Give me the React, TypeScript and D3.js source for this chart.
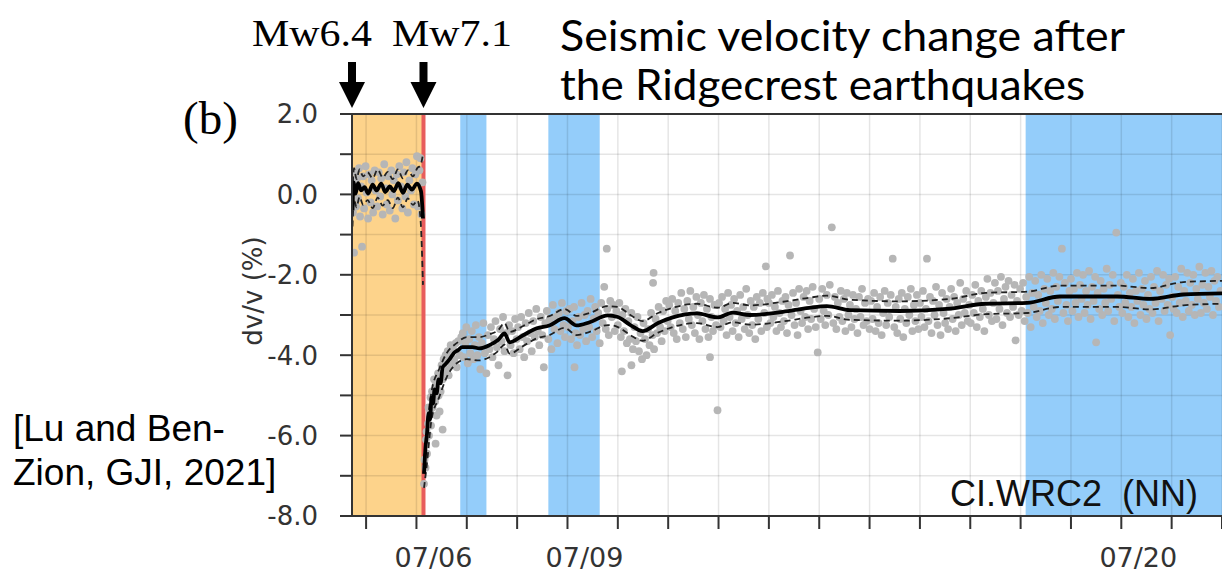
import * as d3 from "d3";

// time axis: days since 2019-07-04 00:00 UTC
const W = 1222;
const H = 573;
const plot = { left: 352, right: 1222, top: 114, bottom: 516 };

const xDomain = [0.72, 18.0];
const yDomain = [-8, 2];

const orangeSpan = [0.72, 2.14];
const mainshockDay = 2.14;
const blueSpans = [
  [2.87, 3.39],
  [4.62, 5.64],
  [14.1, 18.2],
];

const dateLabelDays = [2, 5, 16];
const dateLabels = ["07/06", "07/09", "07/20"];
const quakeArrowDays = [0.72, 2.14];
const quakeLabels = ["Mw6.4", "Mw7.1"];
const quakeLabelX = [252, 392];

// smoothed dv/v (solid) and its bounds (dashed)
const meanPre = [[0.73,-0.40],[0.75,0.30],[0.79,0.02],[0.84,0.28],[0.90,0.10],[0.97,0.18],[1.04,0.02],[1.13,0.24],[1.21,0.10],[1.30,0.27],[1.38,0.06],[1.47,0.20],[1.55,0.08],[1.64,0.28],[1.73,0.04],[1.82,0.24],[1.91,0.12],[2.01,0.27],[2.09,0.08],[2.13,-0.60]];
const upperPre = [[0.73,0.05],[0.76,0.65],[0.81,0.38],[0.87,0.62],[0.94,0.45],[1.03,0.55],[1.13,0.40],[1.23,0.62],[1.33,0.42],[1.43,0.56],[1.53,0.38],[1.63,0.62],[1.73,0.40],[1.83,0.60],[1.93,0.45],[2.02,0.66],[2.08,0.72],[2.13,1.00]];
const lowerPre = [[0.73,-0.80],[0.76,-0.12],[0.81,-0.32],[0.87,-0.06],[0.94,-0.26],[1.03,-0.14],[1.13,-0.34],[1.23,-0.08],[1.33,-0.28],[1.43,-0.14],[1.53,-0.34],[1.63,-0.08],[1.73,-0.32],[1.83,-0.10],[1.93,-0.26],[2.02,-0.15],[2.08,-0.60],[2.13,-2.25]];

const meanPost = [[2.15,-6.95],[2.18,-6.30],[2.21,-5.95],[2.24,-5.45],[2.27,-5.60],[2.30,-5.05],[2.33,-5.20],[2.36,-4.85],[2.40,-4.95],[2.44,-4.60],[2.48,-4.70],[2.52,-4.30],[2.58,-4.22],[2.66,-4.10],[2.74,-3.95],[2.82,-3.88],[2.91,-3.80],[3.11,-3.80],[3.25,-3.83],[3.45,-3.75],[3.62,-3.62],[3.75,-3.46],[3.85,-3.68],[4.11,-3.51],[4.39,-3.33],[4.64,-3.26],[4.94,-3.08],[5.18,-3.26],[5.44,-3.18],[5.80,-3.01],[6.00,-3.05],[6.25,-3.25],[6.49,-3.40],[6.80,-3.20],[7.09,-3.06],[7.57,-2.96],[7.98,-3.06],[8.28,-2.94],[8.62,-3.00],[9.28,-2.92],[9.80,-2.82],[10.15,-2.78],[10.61,-2.88],[11.6,-2.90],[12.6,-2.84],[13.3,-2.72],[14.13,-2.70],[14.78,-2.54],[15.92,-2.54],[16.57,-2.60],[17.23,-2.49],[18.0,-2.46]];
const upperPost = [[2.15,-6.60],[2.20,-5.90],[2.30,-4.90],[2.45,-4.35],[2.60,-3.95],[2.80,-3.70],[3.00,-3.55],[3.25,-3.55],[3.45,-3.48],[3.62,-3.38],[3.75,-3.20],[3.85,-3.42],[4.11,-3.28],[4.39,-3.10],[4.64,-3.03],[4.94,-2.85],[5.18,-3.02],[5.44,-2.95],[5.80,-2.78],[6.00,-2.80],[6.25,-3.00],[6.49,-3.15],[6.80,-2.95],[7.09,-2.82],[7.57,-2.72],[7.98,-2.82],[8.28,-2.70],[8.62,-2.76],[9.28,-2.67],[9.80,-2.57],[10.15,-2.52],[10.61,-2.62],[11.6,-2.66],[12.6,-2.60],[13.3,-2.45],[14.13,-2.42],[14.78,-2.27],[15.92,-2.27],[16.57,-2.33],[17.23,-2.18],[18.0,-2.15]];
const lowerPost = [[2.15,-7.30],[2.20,-6.80],[2.30,-5.60],[2.45,-5.05],[2.60,-4.55],[2.80,-4.20],[3.00,-4.10],[3.25,-4.13],[3.45,-4.05],[3.62,-3.90],[3.75,-3.74],[3.85,-3.96],[4.11,-3.78],[4.39,-3.58],[4.64,-3.50],[4.94,-3.32],[5.18,-3.50],[5.44,-3.42],[5.80,-3.25],[6.00,-3.30],[6.25,-3.50],[6.49,-3.64],[6.80,-3.44],[7.09,-3.30],[7.57,-3.20],[7.98,-3.30],[8.28,-3.18],[8.62,-3.24],[9.28,-3.16],[9.80,-3.06],[10.15,-3.02],[10.61,-3.12],[11.6,-3.14],[12.6,-3.08],[13.3,-2.98],[14.13,-2.95],[14.78,-2.80],[15.92,-2.80],[16.57,-2.86],[17.23,-2.76],[18.0,-2.72]];

// individual dv/v measurements (grey dots)
const scatterPre = [[0.74,-0.45],[0.75,0.30],[0.76,-1.45],[0.77,0.10],[0.79,0.55],[0.80,-0.30],[0.82,0.40],[0.84,-0.10],[0.86,0.65],[0.88,-0.55],[0.90,0.20],[0.92,-1.30],[0.94,0.45],[0.96,-0.35],[0.99,0.70],[1.01,0.05],[1.04,-0.60],[1.06,0.50],[1.09,-0.20],[1.11,0.35],[1.14,-0.45],[1.17,0.60],[1.19,0.10],[1.22,-0.30],[1.25,0.55],[1.28,-0.05],[1.30,0.40],[1.33,-0.50],[1.36,0.75],[1.39,0.15],[1.41,-0.25],[1.44,0.45],[1.47,-0.40],[1.50,0.60],[1.52,0.00],[1.55,0.35],[1.58,-0.60],[1.61,0.50],[1.63,-0.15],[1.66,0.70],[1.69,0.20],[1.72,-0.35],[1.75,0.55],[1.78,-0.05],[1.80,0.80],[1.83,-0.45],[1.86,0.35],[1.89,0.10],[1.92,0.65],[1.95,-0.25],[1.98,0.50],[2.01,0.95],[2.03,-0.30],[2.06,0.60],[2.08,0.90],[2.10,-0.50],[2.12,0.30]];
const scatterEarly = [[2.15,-7.20],[2.16,-6.60],[2.18,-6.80],[2.19,-6.10],[2.20,-5.90],[2.21,-6.45],[2.23,-5.70],[2.24,-5.30],[2.25,-6.00],[2.27,-5.40],[2.28,-5.05],[2.29,-5.75],[2.31,-4.90],[2.32,-5.30],[2.34,-5.00],[2.35,-4.60],[2.37,-5.15],[2.38,-6.20],[2.38,-4.75],[2.40,-5.50],[2.41,-4.85],[2.43,-4.45],[2.44,-5.00],[2.46,-5.40],[2.46,-4.55],[2.48,-4.90],[2.50,-4.25],[2.52,-5.85],[2.52,-4.60],[2.54,-4.10],[2.56,-4.45],[2.58,-4.00],[2.60,-4.35],[2.62,-3.90],[2.64,-4.50],[2.66,-4.05],[2.68,-3.75],[2.70,-4.25],[2.73,-3.85],[2.75,-4.10],[2.78,-3.70],[2.80,-4.30],[2.83,-3.65],[2.86,-4.00],[2.89,-3.55]];
const scatterJul06to09 = [[2.92,-3.45],[2.94,-4.05],[2.97,-3.70],[2.99,-3.30],[3.02,-4.20],[3.05,-3.60],[3.07,-3.95],[3.10,-3.40],[3.13,-4.10],[3.16,-3.75],[3.18,-3.25],[3.21,-4.00],[3.24,-3.55],[3.27,-4.35],[3.30,-3.70],[3.33,-3.20],[3.36,-3.95],[3.39,-4.45],[3.42,-3.50],[3.45,-3.85],[3.48,-3.30],[3.51,-4.05],[3.54,-3.60],[3.57,-3.15],[3.60,-3.80],[3.63,-4.25],[3.66,-3.35],[3.69,-3.65],[3.72,-3.05],[3.75,-3.90],[3.78,-3.45],[3.81,-4.50],[3.84,-3.25],[3.87,-3.75],[3.90,-3.40],[3.93,-3.95],[3.96,-3.10],[3.99,-3.60],[4.02,-3.30],[4.05,-3.85],[4.08,-3.05],[4.11,-3.55],[4.14,-4.05],[4.17,-3.20],[4.20,-3.65],[4.23,-2.95],[4.26,-3.45],[4.29,-3.90],[4.32,-3.15],[4.35,-3.55],[4.38,-2.85],[4.41,-3.40],[4.44,-3.75],[4.47,-3.05],[4.50,-3.50],[4.53,-4.30],[4.56,-3.20],[4.59,-2.90],[4.62,-3.60],[4.65,-3.10],[4.68,-3.85],[4.71,-2.75],[4.74,-3.35],[4.77,-3.05],[4.80,-3.70],[4.83,-2.95],[4.86,-3.40],[4.89,-2.70],[4.92,-3.25],[4.95,-3.55],[4.98,-2.90]];
const scatterJul09to12 = [[5.01,-3.30],[5.04,-2.85],[5.07,-3.60],[5.10,-3.15],[5.13,-2.80],[5.14,-4.30],[5.16,-3.45],[5.19,-3.75],[5.22,-3.05],[5.25,-3.50],[5.28,-2.70],[5.31,-3.35],[5.34,-3.00],[5.37,-3.65],[5.40,-2.90],[5.43,-3.30],[5.46,-2.60],[5.49,-3.55],[5.52,-3.10],[5.55,-2.80],[5.58,-3.40],[5.61,-2.95],[5.64,-3.70],[5.67,-2.70],[5.70,-3.20],[5.73,-2.30],[5.76,-3.35],[5.78,-1.35],[5.79,-2.85],[5.82,-3.50],[5.85,-2.65],[5.88,-3.05],[5.91,-2.75],[5.94,-3.40],[5.97,-2.90],[6.00,-3.25],[6.03,-2.70],[6.06,-3.55],[6.08,-4.40],[6.09,-3.00],[6.12,-3.40],[6.15,-2.85],[6.18,-3.70],[6.21,-3.15],[6.24,-3.60],[6.27,-4.25],[6.27,-2.95],[6.30,-3.85],[6.33,-3.30],[6.36,-3.65],[6.39,-3.05],[6.42,-3.90],[6.45,-3.45],[6.48,-4.10],[6.51,-3.20],[6.54,-3.60],[6.57,-4.00],[6.60,-3.35],[6.63,-3.75],[6.66,-2.95],[6.69,-3.50],[6.70,-2.20],[6.71,-1.95],[6.72,-3.85],[6.75,-3.10],[6.78,-3.45],[6.81,-2.80],[6.84,-3.30],[6.87,-3.65],[6.90,-2.90],[6.93,-3.40],[6.96,-2.65],[6.99,-3.15],[7.02,-2.75],[7.05,-3.30],[7.08,-2.60],[7.11,-3.45],[7.14,-2.90],[7.17,-3.60],[7.20,-2.70],[7.23,-3.20],[7.26,-2.45],[7.29,-3.35],[7.32,-2.85],[7.35,-3.55],[7.38,-2.65],[7.41,-3.10],[7.44,-2.40],[7.47,-3.25],[7.50,-2.80],[7.53,-3.45],[7.56,-2.55],[7.59,-3.00],[7.62,-3.60],[7.65,-2.70],[7.68,-3.15],[7.71,-2.50],[7.74,-3.35],[7.77,-2.85],[7.80,-3.55],[7.83,-4.05],[7.83,-2.60],[7.86,-3.05],[7.89,-3.40],[7.92,-2.75],[7.95,-3.25],[7.98,-5.37]];
const scatterJul12to16 = [[8.01,-2.70],[8.04,-3.30],[8.07,-2.55],[8.10,-3.15],[8.13,-2.85],[8.16,-3.50],[8.19,-2.45],[8.22,-3.05],[8.25,-2.75],[8.28,-3.40],[8.31,-2.60],[8.34,-3.20],[8.37,-2.90],[8.40,-3.55],[8.43,-2.50],[8.46,-3.10],[8.49,-2.80],[8.52,-3.35],[8.55,-2.35],[8.58,-3.00],[8.61,-3.45],[8.64,-2.65],[8.67,-3.25],[8.70,-2.80],[8.73,-3.60],[8.76,-2.55],[8.79,-3.10],[8.82,-2.70],[8.85,-3.40],[8.88,-2.45],[8.91,-2.95],[8.94,-1.79],[8.96,-3.30],[8.97,-2.60],[9.00,-2.70],[9.03,-3.20],[9.06,-2.50],[9.09,-3.05],[9.12,-2.80],[9.15,-3.40],[9.18,-2.40],[9.21,-2.95],[9.24,-3.30],[9.27,-2.65],[9.30,-3.15],[9.33,-2.55],[9.36,-3.45],[9.39,-2.75],[9.42,-1.52],[9.45,-3.00],[9.48,-2.45],[9.51,-3.25],[9.54,-2.70],[9.57,-3.50],[9.60,-2.35],[9.63,-2.90],[9.66,-3.20],[9.69,-2.55],[9.72,-3.05],[9.75,-2.40],[9.78,-3.35],[9.81,-2.65],[9.84,-3.10],[9.87,-2.30],[9.90,-2.85],[9.93,-3.30],[9.97,-3.93],[10.00,-2.60],[10.03,-3.10],[10.06,-2.35],[10.09,-2.90],[10.12,-3.25],[10.15,-2.50],[10.18,-3.00],[10.21,-2.25],[10.25,-0.82],[10.28,-3.20],[10.31,-2.55],[10.34,-3.35],[10.37,-2.70],[10.40,-3.05],[10.43,-2.40],[10.46,-3.15],[10.49,-2.60],[10.52,-3.40],[10.55,-2.45],[10.58,-3.00],[10.61,-2.75],[10.64,-3.30],[10.67,-2.50],[10.70,-3.10],[10.73,-2.85],[10.76,-3.45],[10.79,-2.55],[10.82,-3.05],[10.85,-2.35],[10.88,-3.25],[10.91,-2.70],[10.94,-3.15],[10.97,-2.60],[11.00,-3.35],[11.03,-2.65],[11.06,-3.10],[11.09,-2.45],[11.12,-3.40],[11.15,-2.80],[11.18,-3.20],[11.21,-2.55],[11.24,-3.50],[11.27,-2.95],[11.30,-2.40],[11.33,-3.25],[11.36,-2.70],[11.39,-3.05],[11.42,-2.50],[11.46,-1.60],[11.49,-3.30],[11.52,-2.80],[11.55,-3.45],[11.58,-2.60],[11.61,-3.10],[11.64,-2.45],[11.67,-3.55],[11.70,-2.85],[11.73,-3.20],[11.76,-2.55],[11.79,-3.00],[11.82,-2.35],[11.85,-3.40],[11.88,-2.75],[11.91,-3.15],[11.94,-2.50],[11.97,-3.35]];
const scatterJul16to19 = [[12.00,-2.70],[12.03,-3.05],[12.06,-2.40],[12.09,-3.30],[12.12,-2.85],[12.14,-1.60],[12.17,-3.15],[12.20,-2.55],[12.23,-3.45],[12.26,-2.65],[12.29,-3.00],[12.32,-2.30],[12.35,-3.25],[12.38,-2.75],[12.41,-3.50],[12.44,-2.45],[12.47,-2.95],[12.50,-3.20],[12.53,-2.60],[12.56,-3.35],[12.59,-2.80],[12.62,-2.35],[12.65,-3.10],[12.68,-2.55],[12.71,-3.40],[12.74,-2.70],[12.77,-3.00],[12.80,-2.20],[12.83,-3.25],[12.86,-2.60],[12.89,-2.95],[12.92,-2.40],[12.95,-3.15],[12.98,-2.75],[13.01,-3.20],[13.04,-2.50],[13.07,-2.95],[13.10,-2.25],[13.13,-3.30],[13.16,-2.65],[13.19,-3.05],[13.22,-2.40],[13.25,-2.85],[13.28,-3.40],[13.31,-2.55],[13.34,-2.10],[13.37,-3.00],[13.40,-2.45],[13.43,-3.15],[13.46,-2.70],[13.49,-2.20],[13.52,-3.10],[13.55,-2.40],[13.58,-2.85],[13.61,-2.05],[13.64,-3.25],[13.67,-2.60],[13.70,-2.30],[13.73,-2.95],[13.76,-2.15],[13.79,-3.05],[13.82,-2.50],[13.85,-2.80],[13.88,-2.25],[13.90,-3.63],[13.93,-2.65],[13.96,-3.00],[13.99,-2.35],[14.02,-2.90],[14.05,-2.20],[14.08,-3.15],[14.11,-2.55],[14.14,-2.95],[14.17,-2.05],[14.20,-3.30],[14.23,-2.45],[14.26,-2.80],[14.29,-2.15],[14.32,-3.05],[14.35,-2.50],[14.38,-2.90],[14.41,-2.00],[14.44,-3.20],[14.47,-2.35],[14.50,-2.70],[14.53,-2.10],[14.56,-3.00],[14.59,-2.40],[14.62,-2.85],[14.65,-1.95],[14.68,-3.10],[14.71,-2.30],[14.74,-2.65],[14.77,-2.05],[14.82,-1.35],[14.85,-2.95],[14.88,-2.20],[14.91,-2.75],[14.94,-3.15],[14.97,-2.40]];
const scatterJul19to22 = [[15.00,-2.10],[15.03,-2.90],[15.06,-2.35],[15.09,-2.70],[15.12,-1.95],[15.15,-3.05],[15.18,-2.25],[15.21,-2.60],[15.24,-2.00],[15.27,-2.95],[15.30,-2.40],[15.33,-2.75],[15.36,-1.90],[15.39,-3.10],[15.42,-2.30],[15.45,-2.65],[15.48,-2.05],[15.50,-3.68],[15.53,-2.45],[15.56,-2.85],[15.59,-2.15],[15.62,-3.00],[15.65,-2.35],[15.68,-2.70],[15.71,-1.85],[15.74,-2.90],[15.77,-2.25],[15.80,-2.60],[15.83,-2.00],[15.86,-3.15],[15.90,-0.95],[15.93,-2.50],[15.96,-2.80],[15.99,-2.20],[16.02,-2.95],[16.05,-2.30],[16.08,-2.70],[16.11,-2.00],[16.14,-3.05],[16.17,-2.45],[16.20,-2.80],[16.23,-2.10],[16.26,-3.20],[16.29,-2.40],[16.32,-2.65],[16.35,-1.95],[16.38,-3.00],[16.41,-2.35],[16.44,-2.75],[16.47,-2.15],[16.50,-3.10],[16.53,-2.50],[16.56,-2.85],[16.59,-2.05],[16.62,-2.95],[16.65,-2.30],[16.68,-2.70],[16.71,-1.90],[16.74,-3.15],[16.77,-2.40],[16.80,-2.60],[16.83,-2.00],[16.86,-2.90],[16.89,-2.25],[16.92,-2.75],[16.95,-2.10],[16.97,-3.50],[17.01,-2.55],[17.04,-2.85],[17.07,-2.05],[17.10,-2.95],[17.13,-2.30],[17.16,-2.70],[17.19,-1.85],[17.22,-3.05],[17.25,-2.40],[17.28,-2.65],[17.31,-1.95],[17.34,-2.90],[17.37,-2.20],[17.40,-2.75],[17.43,-2.00],[17.46,-3.00],[17.49,-2.35],[17.52,-2.60],[17.55,-1.80],[17.58,-2.95],[17.61,-2.25],[17.64,-2.70],[17.67,-1.95],[17.70,-2.85],[17.73,-2.30],[17.76,-2.55],[17.79,-1.90],[17.82,-3.00],[17.85,-2.15],[17.88,-2.65],[17.91,-2.05],[17.94,-2.80],[17.97,-2.40]];

const scatter = [
  ...scatterPre,
  ...scatterEarly,
  ...scatterJul06to09,
  ...scatterJul09to12,
  ...scatterJul12to16,
  ...scatterJul16to19,
  ...scatterJul19to22,
];

const x = d3.scaleLinear().domain(xDomain).range([plot.left, plot.right]);
const y = d3.scaleLinear().domain(yDomain).range([plot.bottom, plot.top]);

const line = d3
  .line<number[]>()
  .x((d) => x(d[0]))
  .y((d) => y(d[1]))
  .curve(d3.curveMonotoneX);

const dayTicks = x.ticks(18);
const valueTicks = y.ticks(10);

const sans = "DejaVu Sans, sans-serif";
const helv = "Liberation Sans, Arial, sans-serif";
const serif = "Liberation Serif, Times New Roman, serif";

function arrow(cx: number, top: number, tip: number) {
  const shaft = 4;
  const head = 13;
  const headLen = 26;
  const neck = tip - headLen;
  return `M${cx - shaft},${top} L${cx + shaft},${top} L${cx + shaft},${neck} L${cx + head},${neck} L${cx},${tip} L${cx - head},${neck} L${cx - shaft},${neck} Z`;
}

export default function App() {
  return (
    <svg
      width={W}
      height={H}
      style={{ position: "absolute", left: 0, top: 0, background: "#fff" }}
    >
      <defs>
        <clipPath id="plotClip">
          <rect x={plot.left} y={plot.top} width={plot.right - plot.left} height={plot.bottom - plot.top} />
        </clipPath>
      </defs>

      {/* event windows */}
      <rect
        x={x(orangeSpan[0])}
        y={plot.top}
        width={x(orangeSpan[1]) - x(orangeSpan[0])}
        height={plot.bottom - plot.top}
        fill="#fdd38b"
      />
      {blueSpans.map((s, i) => (
        <rect
          key={i}
          x={x(s[0])}
          y={plot.top}
          width={x(s[1]) - x(s[0])}
          height={plot.bottom - plot.top}
          fill="#94cdfa"
          clipPath="url(#plotClip)"
        />
      ))}

      {/* grid */}
      <g stroke="#000" strokeOpacity={0.1} strokeWidth={1.5}>
        {dayTicks.map((d) => (
          <line key={d} x1={x(d)} x2={x(d)} y1={plot.top} y2={plot.bottom} />
        ))}
        {valueTicks.map((v) => (
          <line key={v} x1={plot.left} x2={plot.right} y1={y(v)} y2={y(v)} />
        ))}
      </g>

      <line
        x1={x(mainshockDay)}
        x2={x(mainshockDay)}
        y1={plot.top}
        y2={plot.bottom}
        stroke="#e85d5c"
        strokeWidth={4}
      />

      <g clipPath="url(#plotClip)">
        {scatter.map((p, i) => (
          <circle key={i} cx={x(p[0])} cy={y(p[1])} r={3.9} fill="#b6b6b6" />
        ))}
        {[upperPre, lowerPre, upperPost, lowerPost].map((s, i) => (
          <path key={i} d={line(s) ?? ""} fill="none" stroke="#222" strokeWidth={1.8} strokeDasharray="6,4" />
        ))}
        {[meanPre, meanPost].map((s, i) => (
          <path key={i} d={line(s) ?? ""} fill="none" stroke="#000" strokeWidth={3.8} strokeLinejoin="round" />
        ))}
      </g>

      {/* frame and axes */}
      <rect
        x={plot.left}
        y={plot.top}
        width={plot.right - plot.left + 4}
        height={plot.bottom - plot.top}
        fill="none"
        stroke="#333"
        strokeWidth={2}
      />
      <g stroke="#333" strokeWidth={2}>
        {valueTicks.map((v) => (
          <line key={v} x1={plot.left - 12} x2={plot.left} y1={y(v)} y2={y(v)} />
        ))}
        {dayTicks.map((d) => (
          <line key={d} x1={x(d)} x2={x(d)} y1={plot.bottom} y2={plot.bottom + 13} />
        ))}
      </g>
      <g fontFamily={sans} fontSize={26} fill="#333" textAnchor="end">
        {valueTicks
          .filter((v) => v % 2 === 0)
          .map((v) => (
            <text key={v} x={318} y={y(v)} dy="0.36em">
              {v.toFixed(1)}
            </text>
          ))}
      </g>
      <g fontFamily={sans} fontSize={27} fill="#333" textAnchor="middle">
        {dateLabelDays.map((d, i) => (
          <text key={d} x={x(d) + 17} y={567}>
            {dateLabels[i]}
          </text>
        ))}
      </g>
      <text
        transform={`translate(262,${(plot.top + plot.bottom) / 2 - 24}) rotate(-90)`}
        textAnchor="middle"
        fontFamily={sans}
        fontSize={26}
        fill="#333"
      >
        dv/v (%)
      </text>
      <text
        x={1198}
        y={506}
        textAnchor="end"
        fontFamily={helv}
        fontSize={36}
        fill="#111"
        style={{ whiteSpace: "pre" }}
      >
        {"CI.WRC2  (NN)"}
      </text>

      {/* earthquake markers */}
      {quakeArrowDays.map((d, i) => (
        <g key={i}>
          <path d={arrow(x(d), 62, 108)} fill="#000" />
          <text
            x={quakeLabelX[i]}
            y={46}
            fontFamily={serif}
            fontSize={38}
            textLength={120}
            lengthAdjust="spacingAndGlyphs"
          >
            {quakeLabels[i]}
          </text>
        </g>
      ))}
      <text x={183} y={134} fontFamily={serif} fontSize={47}>
        (b)
      </text>

      {/* title and citation */}
      <g fontFamily="Lato, Open Sans, sans-serif" fontSize={43} fill="#000">
        <text x={560} y={51} textLength={565} lengthAdjust="spacingAndGlyphs">
          Seismic velocity change after
        </text>
        <text x={560} y={100} textLength={525} lengthAdjust="spacingAndGlyphs">
          the Ridgecrest earthquakes
        </text>
      </g>
      <g fontFamily={helv} fontSize={37} fill="#000">
        <text x={13} y={441}>[Lu and Ben-</text>
        <text x={13} y={485}>Zion, GJI, 2021]</text>
      </g>
    </svg>
  );
}
